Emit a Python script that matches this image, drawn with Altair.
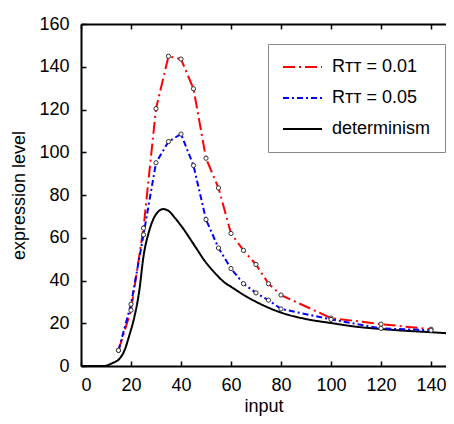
import altair as alt
import pandas as pd

# measured points (stochastic series)
x_pts = [15, 20, 25, 30, 35, 40, 45, 50, 55, 60, 65, 70, 75, 80, 100, 120, 140]
r001 = [7.3, 26.1, 64.5, 120.4, 144.9, 143.6, 129.7, 97.2, 83.3, 62.0, 54.1, 47.5, 38.5, 33.2, 22.4, 19.6, 17.2]
r005 = [7.3, 28.9, 61.4, 95.1, 105.0, 108.5, 93.8, 68.5, 55.2, 45.6, 38.5, 34.2, 30.8, 26.7, 21.8, 17.6, 16.7]

# deterministic curve
x_det = [0, 9, 12.8, 15.4, 17.4, 19.3, 21.3, 23.3, 25, 27.2, 29.8, 32.9, 35.1, 37.7, 40.3,
         45.6, 49.6, 53.5, 57.5, 60.1, 65.3, 70.6, 80, 90.3, 100, 110, 120, 129.7, 140, 147]
y_det = [0, 0, 1.5, 3.4, 7.3, 14.2, 22.7, 35.1, 51.3, 62.9, 70.6, 73.4, 72.5, 69.1, 65.2,
         56, 49, 43.6, 39, 37, 33.1, 29.7, 25, 21.9, 20.1, 18.4, 17.3, 16.5, 15.8, 15.3]

names = ["R\u1d1b\u1d1b = 0.01", "R\u1d1b\u1d1b = 0.05", "determinism"]
colors = ["#ff0000", "#0000ff", "#000000"]
dashes = [[12, 4, 2, 4], [6, 3, 2, 3], [1, 0]]
x_ticks = [0, 20, 40, 60, 80, 100, 120, 140]
y_ticks = [0, 20, 40, 60, 80, 100, 120, 140, 160]

pts = pd.DataFrame({
    "input": x_pts * 2,
    "level": r001 + r005,
    "series": [names[0]] * len(x_pts) + [names[1]] * len(x_pts),
})
det = pd.DataFrame({"input": x_det, "level": y_det, "series": names[2]})

W, H = 365, 342
FONT = "Liberation Sans, DejaVu Sans"
xs = alt.Scale(domain=[0, 146], nice=False, zero=False)
ys = alt.Scale(domain=[0, 160], nice=False)

color = alt.Color("series:N", scale=alt.Scale(domain=names, range=colors),
                  sort=names,
                  legend=alt.Legend(title=None, orient="none", legendX=187, legendY=20,
                                    symbolType="stroke", symbolSize=1521, symbolStrokeWidth=2,
                                    labelFontSize=18, labelFont=FONT, labelColor="#000",
                                    strokeColor="#888", padding=14, rowPadding=13,
                                    labelOffset=9, fillColor="white", clipHeight=18))
dash = alt.StrokeDash("series:N", scale=alt.Scale(domain=names, range=dashes), sort=names,
                      legend=None)

ax_common = dict(labelFont=FONT, labelFontSize=18, labelColor="#000", titleFont=FONT,
                 titleFontSize=18, titleColor="#000", titleFontWeight="normal",
                 domainColor="#000", domainWidth=2, tickColor="#000", tickWidth=1.5,
                 grid=False)

det_line = alt.Chart(det).mark_line(strokeWidth=2, interpolate="monotone", clip=True).encode(
    x=alt.X("input:Q", scale=xs,
            axis=alt.Axis(orient="top", offset=-H, values=x_ticks, labels=False, domain=False,
                          ticks=True, tickSize=5, title=None, **ax_common)),
    y=alt.Y("level:Q", scale=ys,
            axis=alt.Axis(orient="right", offset=-W, values=y_ticks, labels=False, domain=False,
                          ticks=True, tickSize=5, title=None, **ax_common)),
    color=color, strokeDash=dash,
)

dash_lines = alt.Chart(pts).mark_line(strokeWidth=2).encode(
    x=alt.X("input:Q", scale=xs,
            axis=alt.Axis(orient="bottom", values=x_ticks, ticks=False, labelPadding=10,
                          title="input", titlePadding=3, **ax_common)),
    y=alt.Y("level:Q", scale=ys,
            axis=alt.Axis(orient="left", values=y_ticks, ticks=False, labelPadding=12,
                          title="expression level", titlePadding=10, **ax_common)),
    color=color, strokeDash=dash, order="input:Q",
)

points = alt.Chart(pts).mark_point(shape="circle", size=18, filled=False, fill="white",
                                   fillOpacity=1, stroke="#333", strokeWidth=1, opacity=1).encode(
    x=alt.X("input:Q", scale=xs,
            axis=alt.Axis(orient="bottom", offset=-H, values=x_ticks, labels=False, domain=True,
                          ticks=True, tickSize=5, title=None, **ax_common)),
    y=alt.Y("level:Q", scale=ys, axis=None),
)

chart = alt.layer(det_line, dash_lines, points).resolve_axis(
    x="independent", y="independent"
).properties(
    width=W, height=H,
    autosize=alt.AutoSizeParams(type="none"),
    padding={"left": 73, "top": 16, "right": 0, "bottom": 50},
).configure_view(stroke=None).configure(background="white")

chart.save("out.html", embed_options={"renderer": "svg", "actions": False})
